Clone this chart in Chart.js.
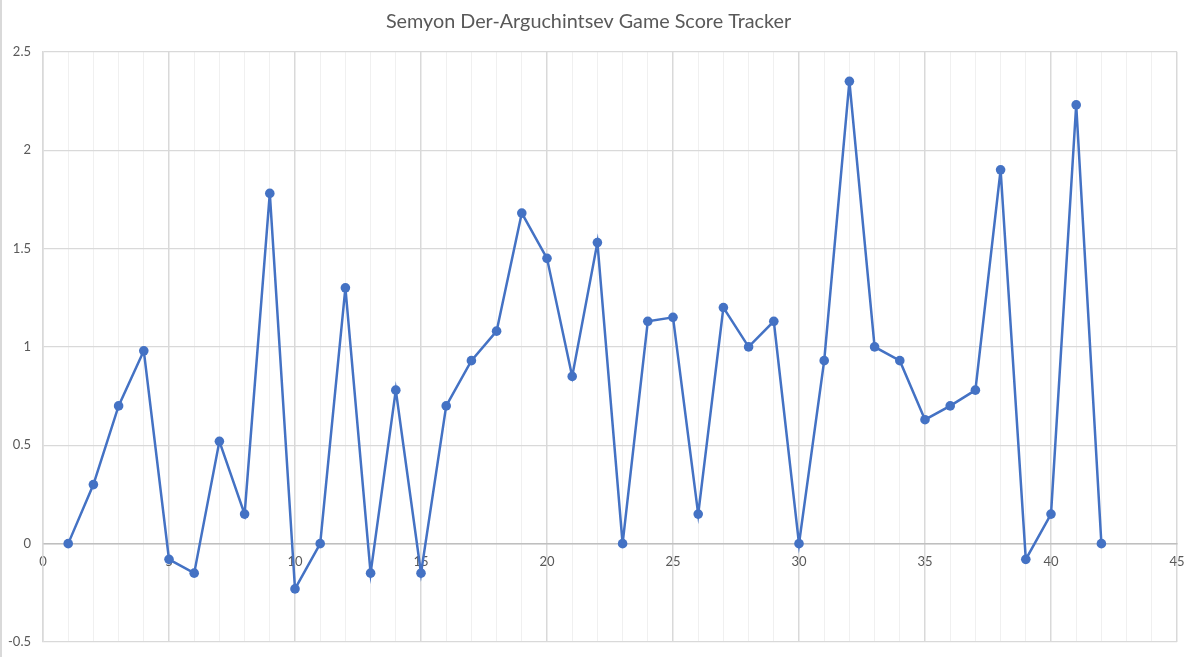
<!DOCTYPE html>
<html>
<head>
<meta charset="utf-8">
<script src="https://cdn.jsdelivr.net/npm/chart.js@4/dist/chart.umd.min.js"></script>
<style>
  html, body { margin: 0; padding: 0; background: #fff; }
  #wrap { position: relative; width: 1200px; height: 657px; }
  #edge { position: absolute; left: 0; top: 0; width: 2px; height: 657px; background: #d9d9d9; }
</style>
</head>
<body>
<div id="wrap">
  <canvas id="scores" width="1200" height="657"></canvas>
  <div id="edge"></div>
</div>
<script>
var gameNumbers = [1, 2, 3, 4, 5, 6, 7, 8, 9, 10, 11, 12, 13, 14, 15, 16, 17, 18, 19, 20, 21,
                   22, 23, 24, 25, 26, 27, 28, 29, 30, 31, 32, 33, 34, 35, 36, 37, 38, 39, 40, 41, 42];
var scores = [0, 0.3, 0.7, 0.98, -0.08, -0.15, 0.52, 0.15, 1.78, -0.23, 0, 1.3, -0.15, 0.78, -0.15,
              0.7, 0.93, 1.08, 1.68, 1.45, 0.85, 1.53, 0, 1.13, 1.15, 0.15, 1.2, 1.0, 1.13, 0,
              0.93, 2.35, 1.0, 0.93, 0.63, 0.7, 0.78, 1.9, -0.08, 0.15, 2.23, 0];
var xMin = 0, xMax = 45;
var yMin = -0.5, yMax = 2.5;
var chartTitle = 'Semyon Der-Arguchintsev Game Score Tracker';

var points = gameNumbers.map(function(g, i){ return { x: g, y: scores[i] }; });
var tickFont = { family: 'Lato, "Open Sans", sans-serif', size: 13 };

var context = document.getElementById('scores').getContext('2d');
var chart = new Chart(context, {
    type: 'scatter',
    data: {
        datasets: [{
            data: points,
            showLine: true,
            borderColor: '#4472C4',
            backgroundColor: '#4472C4',
            borderWidth: 2.5,
            pointRadius: 4.8,
            pointBorderWidth: 0,
            tension: 0
        }]
    },
    options: {
        responsive: false,
        animation: false,
        devicePixelRatio: 1,
        layout: { padding: { left: 0, right: 23, top: 0, bottom: 15 } },
        plugins: {
            legend: { display: false },
            tooltip: { enabled: false },
            title: {
                display: true,
                text: chartTitle,
                color: '#595959',
                font: { family: 'Lato, "Open Sans", sans-serif', size: 19.8, weight: 'normal' },
                padding: { top: 10, bottom: 18 }
            }
        },
        scales: {
            x: {
                type: 'linear',
                position: { y: 0 },
                min: xMin,
                max: xMax,
                afterFit: function(scale){
                    scale.height = 0;
                    scale.paddingLeft = 0; scale.paddingRight = 0;
                    scale.paddingTop = 0; scale.paddingBottom = 0;
                },
                border: { color: '#bfbfbf', width: 1.5 },
                grid: {
                    drawTicks: false,
                    color: function(c){ return c.tick && c.tick.value % 5 === 0 ? '#d9d9d9' : '#f0f0f0'; },
                    lineWidth: function(c){ return c.tick && c.tick.value % 5 === 0 ? 1.5 : 1; }
                },
                ticks: {
                    stepSize: 1,
                    autoSkip: false,
                    maxRotation: 0,
                    padding: 10,
                    color: '#595959',
                    font: tickFont,
                    callback: function(v){ return v % 5 === 0 ? String(v) : ''; }
                }
            },
            y: {
                min: yMin,
                max: yMax,
                afterFit: function(scale){
                    scale.width = 43;
                    scale.paddingTop = 0; scale.paddingBottom = 0;
                },
                border: { color: '#d9d9d9', width: 1.5 },
                grid: { drawTicks: false, color: '#d9d9d9', lineWidth: 1.2 },
                ticks: {
                    stepSize: 0.5,
                    padding: 12,
                    color: '#595959',
                    font: tickFont,
                    callback: function(v){ return String(Math.round(v * 10) / 10); }
                }
            }
        }
    }
});
</script>
</body>
</html>
